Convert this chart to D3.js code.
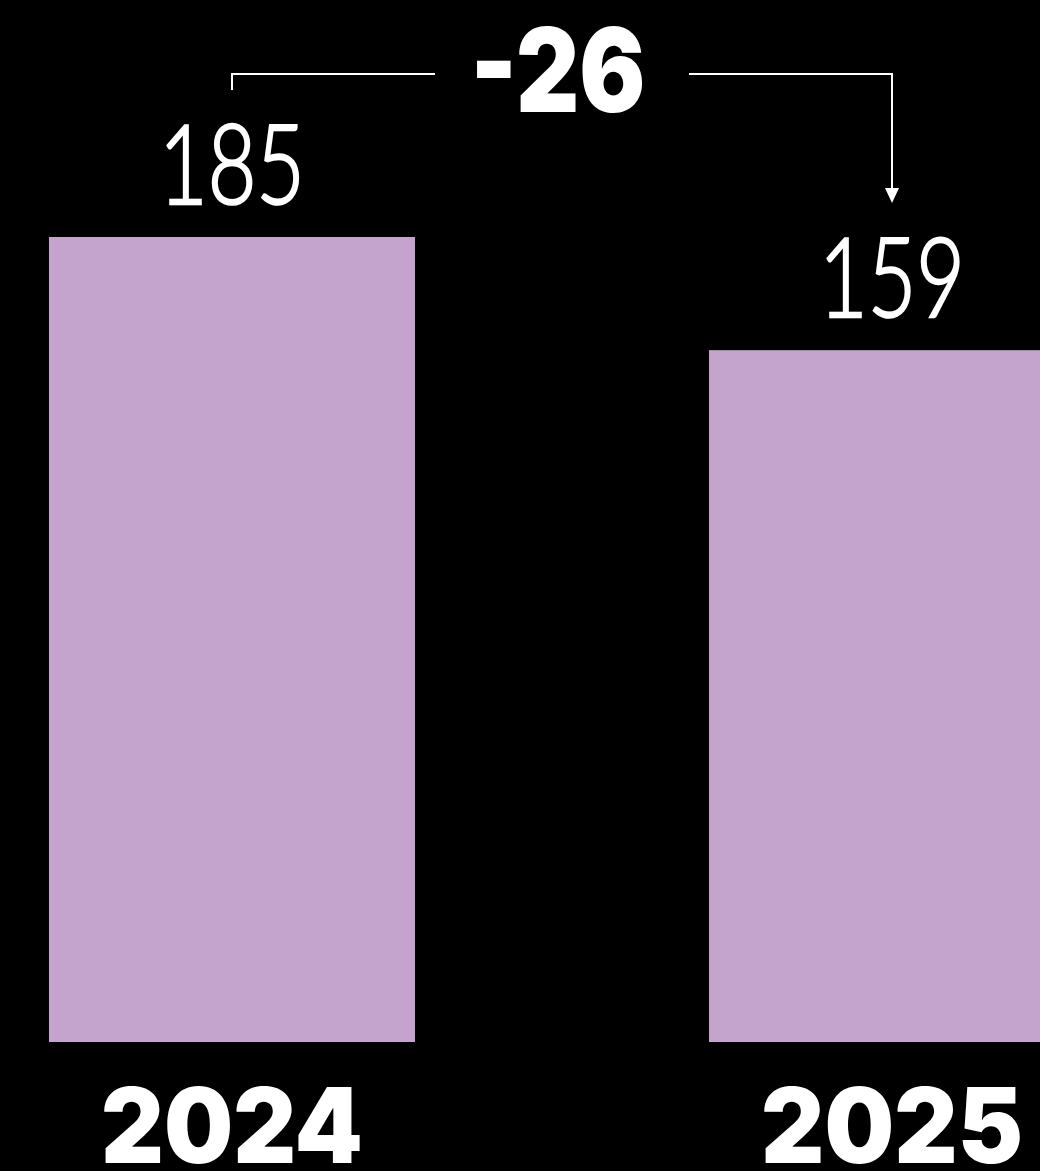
<!DOCTYPE html>
<html>
<head>
<meta charset="utf-8">
<script src="https://cdn.jsdelivr.net/npm/d3@7"></script>
<style>
  html, body { margin: 0; padding: 0; background: #000; }
  svg { display: block; }
</style>
</head>
<body>
<svg id="chart" width="1040" height="1171"></svg>
<script>
const categories = ["2024", "2025"];
const values = [185, 159];
const valueLabels = ["185", "159"];
const changeLabel = "-26";

const W = 1040, H = 1171;
const svg = d3.select("#chart");
svg.append("rect").attr("width", W).attr("height", H).attr("fill", "#000");

const x = d3.scaleBand().domain(categories).range([49, 1075]).paddingInner(0.4455).paddingOuter(0);
const y = d3.scaleLinear().domain([0, 185]).range([1042, 237]);

svg.selectAll("rect.bar").data(categories).join("rect")
  .attr("class", "bar")
  .attr("x", d => x(d))
  .attr("y", (d, i) => y(values[i]))
  .attr("width", x.bandwidth())
  .attr("height", (d, i) => y(0) - y(values[i]))
  .attr("fill", "#c4a4cc");

const cx = d => x(d) + x.bandwidth() / 2;

// value labels
svg.selectAll("text.val").data(categories).join("text")
  .attr("class", "val")
  .attr("x", d => cx(d))
  .attr("y", (d, i) => y(values[i]) - 33)
  .attr("text-anchor", "middle")
  .attr("font-family", "Lato, 'Noto Sans', sans-serif")
  .attr("font-weight", 300)
  .attr("font-size", 110)
  .attr("fill", "#fff")
  .attr("stroke", "#fff")
  .attr("stroke-width", 2.5)
  .attr("textLength", 146)
  .attr("lengthAdjust", "spacingAndGlyphs")
  .text((d, i) => valueLabels[i]);

// year labels
svg.selectAll("text.year").data(categories).join("text")
  .attr("class", "year")
  .attr("x", d => cx(d))
  .attr("y", 1163)
  .attr("text-anchor", "middle")
  .attr("font-family", "Inter, 'Liberation Sans', sans-serif")
  .attr("font-weight", 900)
  .attr("font-size", 104)
  .attr("fill", "#fff")
  .attr("textLength", 262)
  .attr("lengthAdjust", "spacingAndGlyphs")
  .text(d => d);

// change annotation
const x1 = cx(categories[0]), x2 = cx(categories[1]);
const lineY = 74;
const g = svg.append("g").attr("stroke", "#fff").attr("stroke-width", 2).attr("fill", "none");
g.append("path").attr("d", `M${x1},90 V${lineY} H435`);
g.append("path").attr("d", `M689,${lineY} H${x2} V190`);
svg.append("path")
  .attr("d", `M${x2 - 7},188 L${x2 + 7},188 L${x2},203 Z`)
  .attr("fill", "#fff");

svg.append("text")
  .attr("x", 558)
  .attr("y", 112)
  .attr("text-anchor", "middle")
  .attr("font-family", "Inter, 'Liberation Sans', sans-serif")
  .attr("font-weight", 900)
  .attr("font-size", 117)
  .attr("fill", "#fff")
  .attr("textLength", 175)
  .attr("lengthAdjust", "spacingAndGlyphs")
  .text(changeLabel);
</script>
</body>
</html>
